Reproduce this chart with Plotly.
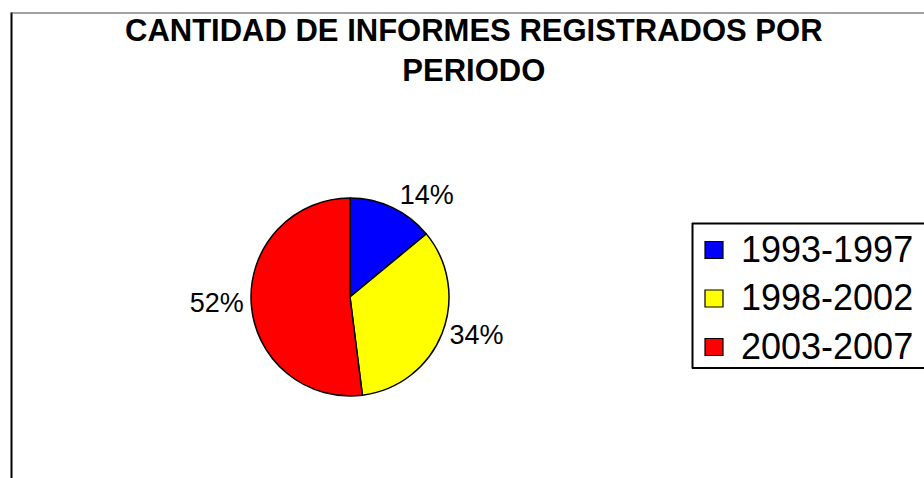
import plotly.graph_objects as go

# ---- data ----
periods = ["1993-1997", "1998-2002", "2003-2007"]
shares = [14, 34, 52]
colors = ["#0000FF", "#FFFF00", "#FF0000"]
title_text = "CANTIDAD DE INFORMES REGISTRADOS POR<br>PERIODO"

W, H = 924, 478
FONT = "Liberation Sans, Arial, sans-serif"


def fx(p):
    return p / W


def fy(p):
    return 1 - p / H


R = 99
CX, CY = 350, 297

fig = go.Figure()
fig.add_trace(go.Pie(
    labels=periods,
    values=shares,
    sort=False,
    direction="clockwise",
    rotation=0,
    marker=dict(colors=colors, line=dict(color="black", width=1.5)),
    texttemplate="%{percent:.0%}",
    textposition="outside",
    textfont=dict(family=FONT, size=27, color="black"),
    showlegend=False,
    hoverinfo="label+percent",
    domain=dict(x=[fx(CX - R), fx(CX + R)], y=[fy(CY + R), fy(CY - R)]),
))


def hline(x0, x1, y, color="black", width=2):
    return dict(type="line", xref="paper", yref="paper", x0=fx(x0), x1=fx(x1), y0=fy(y), y1=fy(y),
                line=dict(color=color, width=width))


def vline(x, y0, y1, color="black", width=2):
    return dict(type="line", xref="paper", yref="paper", x0=fx(x), x1=fx(x), y0=fy(y0), y1=fy(y1),
                line=dict(color=color, width=width))


shapes = [
    # chart area border (left and top)
    vline(11.5, 12.5, H + 5),
    hline(11, W + 5, 13, color="#444444", width=1),
    # legend box (right side runs off the canvas)
    hline(692, W + 5, 223.5),
    hline(692, W + 5, 368),
    vline(692.5, 223, 368.5),
]

annotations = [
    dict(text=title_text, xref="paper", yref="paper", x=fx(474), y=fy(11), xanchor="center", yanchor="top",
         showarrow=False, font=dict(family=FONT, size=31, color="black", weight="bold"), align="center"),
]

for i, (lab, col) in enumerate(zip(periods, colors)):
    cy = 250 + 48.5 * i
    shapes.append(dict(type="rect", xref="paper", yref="paper", x0=fx(705), x1=fx(723),
                       y0=fy(cy - 8.5), y1=fy(cy + 8.5), fillcolor=col, line=dict(color="black", width=1.2)))
    annotations.append(dict(text=lab, xref="paper", yref="paper", x=fx(739), y=fy(cy - 1), xanchor="left",
                            yanchor="middle", showarrow=False,
                            font=dict(family=FONT, size=36, color="black")))

fig.update_layout(
    width=W, height=H,
    margin=dict(l=0, r=0, t=0, b=0),
    paper_bgcolor="white",
    plot_bgcolor="white",
    shapes=shapes,
    annotations=annotations,
    showlegend=False,
)

fig.write_html("out.html")
